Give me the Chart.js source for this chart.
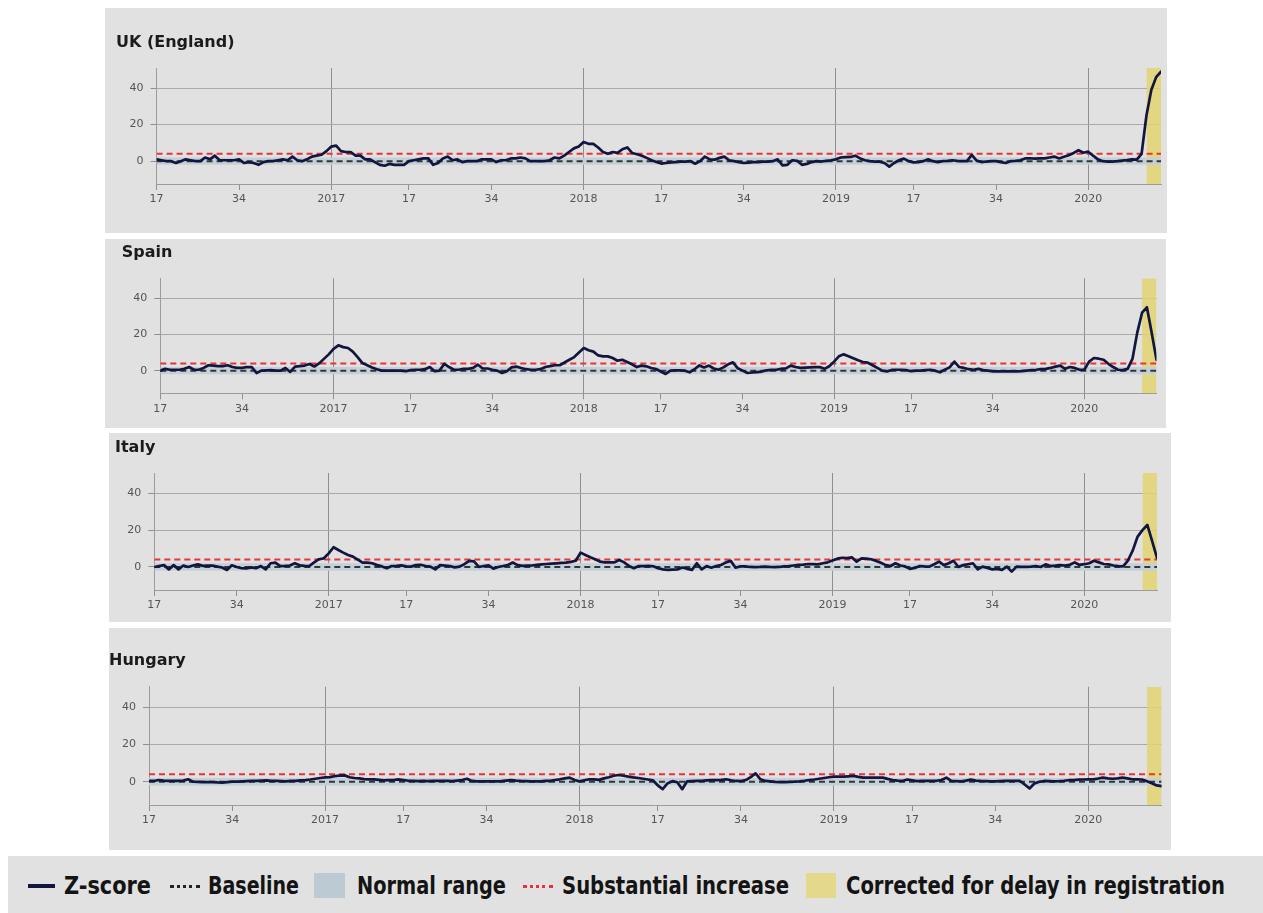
<!DOCTYPE html>
<html>
<head>
<meta charset="utf-8">
<script src="https://cdn.jsdelivr.net/npm/chart.js@4.4.1/dist/chart.umd.min.js"></script>
<style>
  html, body { margin: 0; padding: 0; background: #ffffff; }
  body { width: 1263px; height: 913px; position: relative; overflow: hidden; }
  .panel { position: absolute; background: #e1e1e1; }
  .panel canvas { display: block; }
  #legend {
    position: absolute; left: 8px; top: 856px; width: 1255px; height: 57px;
    background: #e1e1e1; color: #141414;
    font-family: "DejaVu Sans Condensed", "DejaVu Sans", sans-serif;
    font-stretch: condensed; font-weight: bold; font-size: 25px;
  }
  #legend .txt { position: absolute; top: 0; line-height: 59px; white-space: nowrap; transform-origin: left center; }
  #legend .sw { position: absolute; }
</style>
</head>
<body>

<div class="panel" id="p0"><canvas id="c0"></canvas></div>
<div class="panel" id="p1"><canvas id="c1"></canvas></div>
<div class="panel" id="p2"><canvas id="c2"></canvas></div>
<div class="panel" id="p3"><canvas id="c3"></canvas></div>

<div id="legend">
  <div class="sw" style="left:20px;top:28px;width:27px;height:4px;background:#12163f;"></div>
  <div class="txt" data-w="87" style="left:56px;">Z-score</div>
  <div class="sw" style="left:162px;top:29px;width:30px;height:0;border-top:3px dotted #222;"></div>
  <div class="txt" data-w="91" style="left:200px;">Baseline</div>
  <div class="sw" style="left:306px;top:17px;width:31px;height:25px;background:#bccad3;"></div>
  <div class="txt" data-w="149" style="left:349px;">Normal range</div>
  <div class="sw" style="left:515px;top:29px;width:30px;height:0;border-top:3px dotted #e8313a;"></div>
  <div class="txt" data-w="227" style="left:554px;">Substantial increase</div>
  <div class="sw" style="left:798px;top:17px;width:30px;height:25px;background:#e4d88a;"></div>
  <div class="txt" data-w="379" style="left:838px;">Corrected for delay in registration</div>
</div>

<script>
// Weekly z-scores of all-cause mortality, one value per ISO week,
// from 2016 week 17 (index 0) to 2020 week 16 (index 207).
const COUNTRIES = ['UK (England)', 'Spain', 'Italy', 'Hungary'];

const ukZ = [
  1,0.5,0,0,-1,0,1,0.5,0,0,
  2,1,3,0.5,0.5,0.5,0.5,1,-1,-0.5,
  -1,-2,-0.5,0,0,0.5,1,0.5,2.5,0.5,
  0,1,2.5,3,3.5,5.5,8,8.5,5.5,5,
  5,3,3,1,1,-0.5,-2,-2.5,-1.5,-2,
  -2,-2,0,0.5,1,1.5,1.5,-2,-1,1.5,
  2.5,0.5,1,-0.5,0,0,0,1,1,1,
  -0.5,0.5,0.5,1.5,1.5,2,1.5,0,0,0,
  0,0.5,2,1.5,3,5,7,8,10.5,9.5,
  9.5,7.5,5,4,5,4.5,6.5,7.5,4.5,3.8,
  3,1.8,0.5,-0.5,-1.3,-1,-0.7,-0.5,-0.3,-0.2,
  0,-1.4,0,2.5,1,0.8,1.8,2.5,0.5,0,
  -0.5,-1,-0.8,-0.5,-0.5,-0.3,-0.3,0,1,-2.3,
  -2,0.5,0.2,-2,-1.5,-0.5,0,-0.2,0.2,0.5,
  1,2,2.2,2.3,3,1.5,0.5,0,-0.2,-0.3,
  -1,-3,-1,0.5,1.4,0,-0.7,-0.5,0,1,
  0,-0.5,0,0.2,0.5,0.2,0,0,3.4,0.3,
  -0.5,-0.2,0,0,-0.5,-1,0,0.2,0.5,1.5,
  1.6,1.4,1.5,1.5,2,2.5,1.5,2.4,3.2,4.5,
  6,4.6,5.2,3,1,0,-0.3,-0.2,0,0.3,
  0.6,1,0.8,4,25,39,46,49
];

const spainZ = [
  0,1,0.5,0.5,0.5,1,2,0.5,0.5,1.5,
  3,2.8,2.5,2.5,3,2,1.5,1.5,2,2,
  -1.3,0,0.2,0.3,0,0,1.5,-0.7,2.2,2.5,
  2.8,3.7,2.3,4,6.5,9,12,14,13,12.5,
  10.5,7.5,4.2,3,1.8,0.8,0,0,0,0,
  0,-0.3,0.3,0.5,0.5,0.8,2,-0.3,0,3.7,
  2,0.5,0.5,1,1,1.5,3.3,1.2,1.2,0.5,
  0,-1.3,-0.3,1.8,2.2,1.5,0.8,0.5,0.5,0.8,
  2,2.5,3,3,4.5,6,7.5,10,12.5,11.3,
  10.5,8.4,7.9,7.9,7,5.5,6,4.8,3.5,2,
  2.8,2.4,1.5,0.9,-0.5,-1.8,0,0.2,0.2,0,
  -0.9,0.8,2.9,1.8,2.8,1.2,0.5,1.8,3.5,4.6,
  1.3,0,-1.3,-1,-0.8,-0.5,0.2,0.4,0.5,1,
  1.3,2.8,2,1.5,1.7,1.8,1.9,2,1,2.4,
  5,7.9,9,8,6.8,5.7,4.8,4.4,3,1.5,
  0,-0.4,0.4,0.5,0.5,0.3,-0.3,0,0,0.3,
  0.5,0,-0.9,0.5,1.8,5,2,1.5,0.8,0.5,
  1,0.3,0,-0.4,-0.4,-0.4,-0.4,-0.4,-0.4,-0.3,
  0,0.3,0.5,0.8,1,1.5,2.2,2.8,1,2,
  1.5,0.5,0.5,5,7,6.6,6,3.8,2,0.5,
  0.3,1,6.5,21,32,35,21,6
];

const italyZ = [
  0,0.5,1,-1.3,1,-1.3,0.8,0,0.8,1.4,
  0.6,0.7,0.7,0.2,-0.3,-1.6,0.9,0,-0.7,-0.8,
  -0.2,-0.7,0.5,-1.3,2,2.4,0.5,0.6,0.8,2,
  0.9,0.6,0.5,2.5,4.2,4.7,7.4,10.7,9.2,7.8,
  6.5,5.6,4,2.4,2.4,2,1,0.3,-0.7,0.5,
  0.6,0.9,0.3,0.2,1,1.2,0.5,0.2,-1.3,1,
  0.8,0.5,-0.2,0.2,1.5,3.3,3,0,0.5,0.9,
  -0.9,0,0.5,1.1,2.4,1,0.6,0.7,0.8,1.1,
  1.4,1.6,1.8,2,2.2,2.4,2.8,3.4,7.8,6.5,
  5.3,4.2,2.9,2.5,2.5,2.5,3.8,2.5,0.5,-0.7,
  0.5,0.5,0.6,0.4,-0.7,-1.3,-1.6,-1.4,-1.3,-0.3,
  -1,-1.6,2,-1.3,0.5,-0.4,0.5,1.1,2.5,3.3,
  -0.4,0.3,0.3,0,-0.1,0,0.2,0,-0.1,0,
  0.3,0.5,0.8,1.1,1.3,1.6,1.5,1.4,2,2.5,
  3.5,4.5,5,4.8,5.2,2.9,4.7,4.5,4.2,3.3,
  2.3,1,0.5,2,0.8,0.3,-1,-0.5,0.5,0.3,
  0.2,1.5,2.9,1,2,3.4,0,1,1.5,2,
  -1.3,0.2,-0.5,-1.3,-1,-1.6,0.2,-2.5,0.2,0,
  0,0.2,0.5,0,1.4,0.5,0.7,1,0.8,1.2,
  2.5,1.1,1.5,2,3.4,2.5,1.6,1.4,0.8,0.5,
  0.3,3.5,9,16.5,20,22.8,14,5
];

const hungaryZ = [
  0.4,0.4,0.9,0.6,0.5,0.4,0.5,0.6,1.3,0,
  -0.1,-0.2,-0.2,-0.2,-0.4,-0.5,-0.2,0,0.1,0.2,
  0.3,0.4,0.5,0.6,0.7,0.5,0.4,0.3,0.2,0.4,
  0.5,0.7,0.9,1.2,1.6,2,2.3,2.5,3,3.3,
  3.4,2.4,2,1.8,1.4,1.3,1.3,1,0.7,0.8,
  0.9,1.3,0.9,0.5,0.4,0.3,0.4,0.3,0.4,0.5,
  0.5,0.4,0.3,0.6,0.9,1.6,0.4,0.2,0.2,0.2,
  0.2,0.2,0.3,0.6,0.9,0.6,0.4,0.3,0.2,0.2,
  0.2,0.4,0.5,0.9,1.3,1.8,2.2,0.9,0.2,0.8,
  1.3,1.3,1,1.8,2.4,3.2,3.6,3.2,2.7,2.3,
  2,1.6,1.2,0.8,-2,-4,-0.9,0.3,-0.3,-4,
  0.2,0.3,0.4,0.5,0.7,0.9,0.9,1,1.3,0.8,
  0.4,0.3,0.9,2.5,4.5,1.3,0.4,0.2,-0.1,-0.2,
  -0.2,-0.1,0,0.2,0.5,0.9,1.2,1.6,2,2.4,
  2.7,2.7,2.7,2.9,3.1,2.6,2.2,2.2,2.2,2.2,
  2.2,1.5,0.9,0.6,0.4,1.2,0.8,0.3,0.4,0.4,
  0.4,0.5,0.9,2.2,0.4,0.3,0.2,0.6,1.1,0.6,
  0.4,0.3,0.2,0.2,0.3,0.4,0.4,0.5,0.5,-1.5,
  -3.6,-1,0,0.4,0.3,0.2,0.3,0.5,0.8,0.9,
  1.1,1.2,1.3,1.3,1.7,2.2,1.8,1.6,1.8,2.2,
  1.8,1.3,1.3,1.2,0.2,-0.8,-2,-2.4
];

// Week axis: tick positions (week index) and their labels
const WEEK_TICKS       = [0, 17, 36, 52, 69, 88, 104, 121, 140, 156, 173, 192];
const WEEK_TICK_LABELS = ['17', '34', '2017', '17', '34', '2018', '17', '34', '2019', '17', '34', '2020'];
const YEAR_STARTS      = [36, 88, 140, 192];
const Y_TICKS          = [0, 20, 40];

// Reference levels (z-score units) and the delay-corrected weeks
const BASELINE = 0;
const NORMAL_RANGE = [-2, 2];
const SUBSTANTIAL_INCREASE = 4;
const DELAY_CORRECTED = [204, 207];
const Y_RANGE = [-12.5, 51];

const SERIES = [ukZ, spainZ, italyZ, hungaryZ];

// Box geometry of each panel (page pixels) and offsets of the plot inside it
const PANEL_LAYOUT = [
  { left: 105, top: 8,   width: 1062, height: 225, titleX: 11,   titleTop: 24.9, titleBottom: 15.9, plotLeft: 51.6, padRight: 6,   axisY: 176 },
  { left: 105, top: 239, width: 1061, height: 189, titleX: 16.7, titleTop: 4.4,  titleBottom: 15.7, plotLeft: 55.3, padRight: 9.5, axisY: 154.3 },
  { left: 109, top: 433, width: 1062, height: 189, titleX: 6,    titleTop: 5.4,  titleBottom: 15.4, plotLeft: 45.3, padRight: 14,  axisY: 157 },
  { left: 109, top: 628, width: 1062, height: 222, titleX: 0,    titleTop: 22.9, titleBottom: 16.6, plotLeft: 40,   padRight: 9.4, axisY: 177 }
];

const TICK_FONT = { family: 'DejaVu Sans', size: 11 };
const CLEAR = 'rgba(0,0,0,0)';

function buildPanel(idx) {
  const L = PANEL_LAYOUT[idx];
  const values = SERIES[idx];
  const xMax = values.length - 1;
  const panel = document.getElementById('p' + idx);
  panel.style.left = L.left + 'px';
  panel.style.top = L.top + 'px';
  panel.style.width = L.width + 'px';
  panel.style.height = L.height + 'px';
  const canvas = document.getElementById('c' + idx);
  canvas.width = L.width;
  canvas.height = L.height;

  const level = y => [{ x: 0, y }, { x: xMax, y }];

  return new Chart(canvas, {
    type: 'line',
    data: {
      datasets: [
        {
          label: 'Z-score',
          data: values.map((v, i) => ({ x: i, y: v })),
          borderColor: '#12163f', borderWidth: 2.7,
          borderJoinStyle: 'round', borderCapStyle: 'round',
          pointRadius: 0, tension: 0, order: 0
        },
        {
          label: 'Substantial increase',
          data: level(SUBSTANTIAL_INCREASE),
          borderColor: '#ec3137', borderWidth: 2, borderDash: [6, 4],
          pointRadius: 0, order: 1
        },
        {
          label: 'Baseline',
          data: level(BASELINE),
          borderColor: '#353535', borderWidth: 2, borderDash: [6, 4],
          pointRadius: 0, order: 2
        },
        {
          label: 'Normal range',
          data: level(NORMAL_RANGE[1]),
          borderColor: CLEAR, borderWidth: 0, pointRadius: 0,
          fill: { value: NORMAL_RANGE[0] }, backgroundColor: '#c4d0d8', order: 3
        },
        {
          label: 'Corrected for delay in registration',
          data: [{ x: DELAY_CORRECTED[0], y: Y_RANGE[1] }, { x: DELAY_CORRECTED[1], y: Y_RANGE[1] }],
          borderColor: CLEAR, borderWidth: 0, pointRadius: 0,
          fill: 'start', backgroundColor: 'rgba(226,212,113,0.85)', order: 4
        }
      ]
    },
    options: {
      responsive: false,
      animation: false,
      events: [],
      layout: { padding: { left: L.titleX, right: L.padRight, top: 0, bottom: 0 } },
      plugins: {
        legend: { display: false },
        tooltip: { enabled: false },
        title: {
          display: true, text: COUNTRIES[idx], align: 'start', color: '#1b1b1b',
          font: { family: 'DejaVu Sans', weight: 'bold', size: 16, lineHeight: 1.2 },
          padding: { top: L.titleTop, bottom: L.titleBottom }
        }
      },
      scales: {
        x: {
          type: 'linear', min: 0, max: xMax,
          afterBuildTicks: s => { s.ticks = WEEK_TICKS.map(v => ({ value: v })); },
          afterFit: s => { s.height = L.height - L.axisY; },
          ticks: {
            autoSkip: false, maxRotation: 0, padding: 3, color: '#555555', font: TICK_FONT,
            callback: v => WEEK_TICK_LABELS[WEEK_TICKS.indexOf(v)]
          },
          grid: {
            color: c => (c.tick && YEAR_STARTS.includes(c.tick.value)) ? '#8f8f8f' : CLEAR,
            tickColor: '#8f8f8f', tickLength: 6, lineWidth: 1
          },
          border: { display: true, color: '#9c9c9c', width: 1 }
        },
        y: {
          min: Y_RANGE[0], max: Y_RANGE[1],
          afterBuildTicks: s => { s.ticks = Y_TICKS.map(v => ({ value: v })); },
          afterFit: s => { s.width = L.plotLeft - L.titleX; },
          ticks: { padding: 7, color: '#555555', font: TICK_FONT },
          grid: {
            color: c => (c.tick && c.tick.value === BASELINE) ? CLEAR : '#a9a9a9',
            tickColor: '#8f8f8f', tickLength: 6, lineWidth: 1
          },
          border: { display: true, color: '#9c9c9c', width: 1 }
        }
      }
    }
  });
}

COUNTRIES.forEach((_, i) => buildPanel(i));

// Narrow each legend label to its set width
function fitLegend() {
  document.querySelectorAll('#legend .txt').forEach(el => {
    el.style.transform = 'none';
    const w = el.getBoundingClientRect().width;
    const target = Number(el.dataset.w);
    if (w > 0) el.style.transform = 'scaleX(' + (target / w) + ')';
  });
}
fitLegend();
if (document.fonts && document.fonts.ready) document.fonts.ready.then(fitLegend);
</script>
</body>
</html>
